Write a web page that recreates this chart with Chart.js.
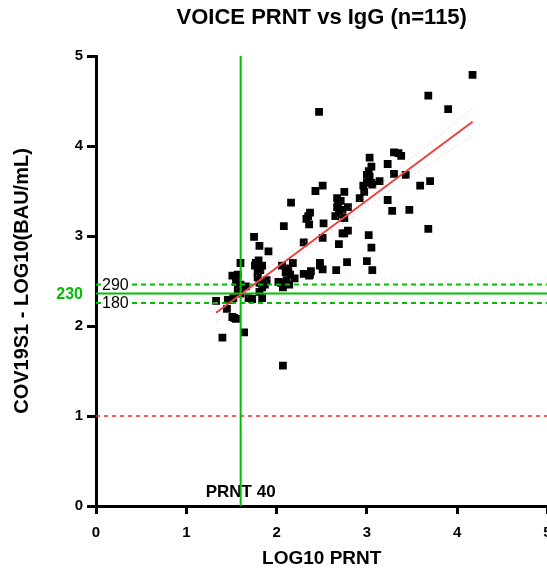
<!DOCTYPE html>
<html>
<head>
<meta charset="utf-8">
<script src="https://cdn.jsdelivr.net/npm/chart.js@4/dist/chart.umd.min.js"></script>
<style>
  html, body { margin: 0; padding: 0; background: #fff; overflow: hidden; width: 547px; height: 570px; }
  #chart { display: block; width: 553px; height: 570px; }
</style>
</head>
<body>
<canvas id="chart" width="553" height="570"></canvas>
<script>
// LOG10 PRNT titre per participant
const prntLog = [
  4.17,3.68,3.90,2.47,3.30,3.38,3.03,3.23,3.05,3.02,
  3.03,3.05,3.30,3.43,3.14,2.96,2.97,3.70,3.59,2.92,
  3.23,3.28,3.47,2.51,2.43,2.16,2.75,2.67,2.68,2.79,
  2.73,2.65,2.75,2.37,2.33,2.36,2.08,2.52,3.68,3.02,
  2.73,2.79,1.75,2.30,2.51,2.69,3.05,1.81,1.91,2.78,
  3.00,3.06,2.66,2.48,2.51,2.38,2.36,2.18,2.11,2.06,
  2.13,2.20,2.11,2.02,2.07,1.89,1.60,1.80,1.76,1.84,
  1.79,1.79,1.51,1.57,1.60,1.57,1.66,1.84,1.81,1.52,
  1.46,1.73,1.84,1.33,1.45,1.51,1.55,1.64,1.40,2.07,
  2.30,3.00,3.00,2.71,2.69,2.35,3.35,1.77,1.82,1.81,
  2.15,2.05,2.14,1.55,1.60,1.49,1.53,2.48,2.37,2.75,
  2.67,2.10,1.87,1.69,3.06
];
// COV19S1 IgG, LOG10(BAU/mL), same participant order
const iggLog = [
  4.79,4.56,4.41,4.38,3.93,3.89,3.87,3.80,3.77,3.72,
  3.66,3.59,3.69,3.68,3.61,3.56,3.49,3.61,3.56,3.42,
  3.40,3.28,3.29,3.56,3.50,3.37,3.49,3.42,3.36,3.32,
  3.29,3.22,3.20,3.26,3.19,3.13,3.11,3.14,3.08,3.01,
  3.03,3.06,2.99,2.93,2.98,2.91,2.87,2.89,2.83,2.71,
  2.72,2.62,2.62,2.70,2.63,2.61,2.56,2.70,2.64,2.67,
  2.61,2.53,2.51,2.49,2.43,2.51,2.70,2.73,2.67,2.67,
  2.60,2.54,2.56,2.57,2.46,2.40,2.44,2.43,2.38,2.31,
  2.29,2.30,2.31,2.28,2.19,2.10,2.08,1.93,1.87,1.56,
  2.58,3.59,3.68,3.39,3.24,3.22,3.92,2.70,2.62,2.48,
  2.57,2.48,2.46,2.49,2.36,2.29,2.09,2.67,2.57,3.03,
  3.32,2.60,2.46,2.31,3.57
];

// Linear fit and its 95% confidence band
const fitX = [1.33, 4.17];
const fitY = [2.148, 4.27];
const bandX = [1.33, 1.8, 2.3, 2.8, 3.3, 3.8, 4.17];
const bandUpper = [2.26, 2.577, 2.925, 3.302, 3.704, 4.115, 4.421];
const bandLower = [2.04, 2.421, 2.819, 3.190, 3.534, 3.870, 4.117];

// Reference thresholds
const prntCutoff = 40;          // PRNT titre
const baUCutoff = 230;          // BAU/mL
const baULow = 180;
const baUHigh = 290;
const floorLevel = 1;           // LOG10 BAU/mL

const xTicks = [0, 1, 2, 3, 4, 5];
const yTicks = [0, 1, 2, 3, 4, 5];
const chartTitle = 'VOICE PRNT vs IgG (n=115)';

const FONT = '"Liberation Sans", Arial, Helvetica, sans-serif';
const GREEN = 'rgb(0,190,0)';
const RED = 'rgb(238,64,64)';

const pts = prntLog.map((v, i) => ({ x: v, y: iggLog[i] }));
const hline = (v) => [{ x: 0, y: v }, { x: 5, y: v }];

const annotations = {
  id: 'annotations',
  beforeDatasetsDraw(chart) {
    const { ctx, scales: { x } } = chart;
    ctx.save();
    ctx.fillStyle = '#000';
    ctx.font = 'bold 17px ' + FONT;
    ctx.textAlign = 'center';
    ctx.textBaseline = 'middle';
    ctx.fillText('PRNT 40', x.getPixelForValue(Math.log10(prntCutoff)), 492);
    ctx.restore();
  },
  afterDraw(chart) {
    const { ctx, chartArea, scales: { y } } = chart;
    ctx.save();
    ctx.textBaseline = 'middle';
    // chart title centred over the plot
    ctx.fillStyle = '#000';
    ctx.font = 'bold 22px ' + FONT;
    ctx.textAlign = 'center';
    ctx.fillText(chartTitle, (chartArea.left + chartArea.right) / 2, 18);

    // threshold labels
    ctx.font = '16px ' + FONT;
    ctx.textAlign = 'left';
    [baUHigh, baULow].forEach((v) => {
      const py = y.getPixelForValue(Math.log10(v));
      const w = ctx.measureText(String(v)).width;
      ctx.fillStyle = '#fff';
      ctx.fillRect(chartArea.left + 5, py - 6, w + 2, 12);
      ctx.fillStyle = '#000';
      ctx.fillText(String(v), chartArea.left + 6, py + 1);
    });
    ctx.font = 'bold 16px ' + FONT;
    ctx.textAlign = 'right';
    ctx.fillStyle = GREEN;
    ctx.fillText(String(baUCutoff), 83, y.getPixelForValue(Math.log10(baUCutoff)) + 1);
    ctx.restore();
  }
};

new Chart(document.getElementById('chart'), {
  type: 'scatter',
  data: {
    datasets: [
      {
        label: 'Linear fit',
        type: 'line',
        data: fitX.map((v, i) => ({ x: v, y: fitY[i] })),
        borderColor: RED,
        borderWidth: 2,
        pointRadius: 0,
        fill: false,
        order: 0
      },
      {
        label: 'Upper 95% CI',
        type: 'line',
        data: bandX.map((v, i) => ({ x: v, y: bandUpper[i] })),
        borderColor: 'rgba(245,150,150,0.7)',
        borderWidth: 1,
        borderDash: [1, 3],
        cubicInterpolationMode: 'monotone',
        pointRadius: 0,
        fill: false,
        order: 1
      },
      {
        label: 'Lower 95% CI',
        type: 'line',
        data: bandX.map((v, i) => ({ x: v, y: bandLower[i] })),
        borderColor: 'rgba(245,150,150,0.7)',
        borderWidth: 1,
        borderDash: [1, 3],
        cubicInterpolationMode: 'monotone',
        pointRadius: 0,
        fill: false,
        order: 1
      },
      {
        label: 'PRNT 40',
        type: 'line',
        data: [{ x: Math.log10(prntCutoff), y: 0 }, { x: Math.log10(prntCutoff), y: 5 }],
        borderColor: GREEN,
        borderWidth: 2,
        pointRadius: 0,
        order: 2
      },
      {
        label: '230 BAU/mL',
        type: 'line',
        data: hline(Math.log10(baUCutoff)),
        borderColor: GREEN,
        borderWidth: 2,
        pointRadius: 0,
        order: 2
      },
      {
        label: '290 BAU/mL',
        type: 'line',
        data: hline(Math.log10(baUHigh)),
        borderColor: GREEN,
        borderWidth: 2,
        borderDash: [5, 4],
        pointRadius: 0,
        order: 2
      },
      {
        label: '180 BAU/mL',
        type: 'line',
        data: hline(Math.log10(baULow)),
        borderColor: GREEN,
        borderWidth: 2,
        borderDash: [5, 4],
        pointRadius: 0,
        order: 2
      },
      {
        label: 'Floor',
        type: 'line',
        data: hline(floorLevel),
        borderColor: 'rgb(240,40,40)',
        borderWidth: 1.5,
        borderDash: [4, 4],
        pointRadius: 0,
        order: 2
      },
      {
        label: 'Participants',
        data: pts,
        pointStyle: 'rect',
        pointRadius: 5.5,
        pointHoverRadius: 5.5,
        backgroundColor: '#000',
        borderWidth: 0,
        order: 3
      }
    ]
  },
  options: {
    responsive: false,
    maintainAspectRatio: false,
    animation: false,
    devicePixelRatio: 1,
    layout: { padding: { top: 56, right: 0, bottom: 0, left: 0 } },
    plugins: {
      legend: { display: false },
      tooltip: { enabled: false },
      title: { display: false }
    },
    scales: {
      x: {
        type: 'linear',
        min: 0,
        max: 5,
        afterBuildTicks: (s) => { s.ticks = xTicks.map((v) => ({ value: v })); },
        afterFit: (s) => { s.height = 64; s.paddingLeft = 0; s.paddingRight = 0; },
        border: { display: true, color: '#000', width: 3 },
        grid: { drawOnChartArea: false, drawTicks: true, tickLength: 8, tickWidth: 3, tickColor: '#000' },
        ticks: { color: '#000', padding: 10, font: { family: FONT, size: 15, weight: 'bold' } },
        title: {
          display: true,
          text: 'LOG10 PRNT',
          color: '#000',
          font: { family: FONT, size: 19, weight: 'bold' },
          padding: { top: 0, bottom: 0 }
        }
      },
      y: {
        type: 'linear',
        min: 0,
        max: 5,
        afterBuildTicks: (s) => { s.ticks = yTicks.map((v) => ({ value: v })); },
        afterFit: (s) => { s.width = 96; },
        border: { display: true, color: '#000', width: 3 },
        grid: { drawOnChartArea: false, drawTicks: true, tickLength: 9, tickWidth: 3, tickColor: '#000' },
        ticks: { color: '#000', padding: 4, font: { family: FONT, size: 15, weight: 'bold' } },
        title: {
          display: true,
          text: 'COV19S1 - LOG10(BAU/mL)',
          color: '#000',
          font: { family: FONT, size: 20, weight: 'bold' },
          padding: { top: 10, bottom: 0 }
        }
      }
    }
  },
  plugins: [annotations]
});
</script>
</body>
</html>
